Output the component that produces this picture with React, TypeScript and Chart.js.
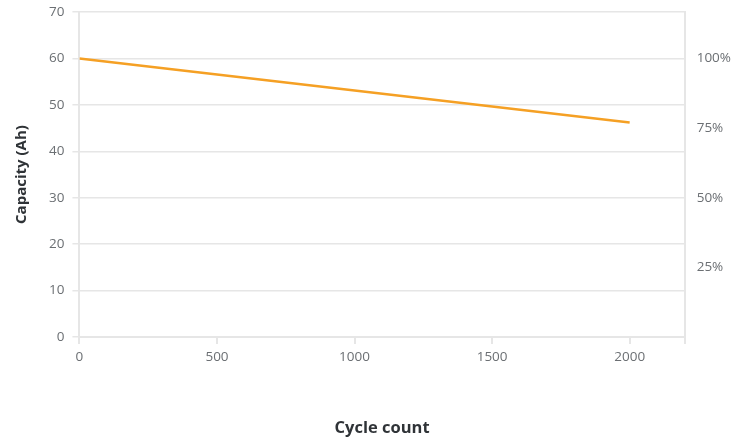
import React, { useEffect, useRef } from "react";
import { Chart, registerables } from "chart.js";

Chart.register(...registerables);

const cycles = [0, 2000];
const capacityAh = [60, 46.2];
const xTicks = [0, 500, 1000, 1500, 2000, 2200];
const yTicks = [0, 10, 20, 30, 40, 50, 60, 70];
const pctTicks = [15, 30, 45, 60];
const fullCapacity = 60;

export default function App() {
  const ref = useRef<HTMLCanvasElement | null>(null);
  useEffect(() => {
    document.body.style.margin = "0";
    const ctx = ref.current!;
    const grid = "#e6e6e6";
    const tickColor = "#6b6f73";
    const font = "'Open Sans', sans-serif";
    const chart = new Chart(ctx, {
      type: "line",
      data: {
        datasets: [
          {
            data: cycles.map((c, i) => ({ x: c, y: capacityAh[i] })),
            borderColor: "#f5a024",
            borderWidth: 2.5,
            pointRadius: 0,
            fill: false,
            tension: 0,
            yAxisID: "y",
          },
        ],
      },
      options: {
        animation: false,
        responsive: false,
        maintainAspectRatio: false,
        layout: { padding: { left: 13, right: 5, top: 0, bottom: 1 } },
        plugins: { legend: { display: false }, tooltip: { enabled: false } },
        scales: {
          x: {
            type: "linear",
            min: 0,
            max: 2200,
            afterBuildTicks: (axis: any) => {
              axis.ticks = xTicks.map((v) => ({ value: v }));
            },
            grid: { drawOnChartArea: false, color: grid, tickLength: 7, lineWidth: 2 },
            border: { color: grid, width: 2 },
            ticks: {
              color: tickColor,
              font: { family: font, size: 13.5 },
              padding: 5,
              maxRotation: 0,
              autoSkip: false,
              callback: (v: any) => (v === 2200 ? "" : String(v)),
            },
            title: {
              display: true,
              text: "Cycle count",
              color: "#2f3337",
              font: { family: font, size: 16.5, weight: "bold" },
              padding: { top: 48, bottom: 2 },
            },
          },
          y: {
            type: "linear",
            position: "left",
            min: 0,
            max: 70,
            afterBuildTicks: (axis: any) => {
              axis.ticks = yTicks.map((v) => ({ value: v }));
            },
            grid: { color: grid, tickLength: 7, lineWidth: 1.5 },
            border: { color: grid, width: 2 },
            ticks: {
              color: tickColor,
              font: { family: font, size: 13.5 },
              padding: 8,
            },
            title: {
              display: true,
              text: "Capacity (Ah)",
              color: "#2f3337",
              font: { family: font, size: 15, weight: "bold" },
              padding: { top: 0, bottom: 10 },
            },
          },
          y2: {
            type: "linear",
            position: "right",
            min: 0,
            max: 70,
            afterBuildTicks: (axis: any) => {
              axis.ticks = pctTicks.map((v) => ({ value: v }));
            },
            grid: { drawOnChartArea: false, drawTicks: false },
            border: { color: grid, width: 2 },
            ticks: {
              color: tickColor,
              font: { family: font, size: 13.5 },
              padding: 12,
              callback: (v: any) => Math.round((v / fullCapacity) * 100) + "%",
            },
          },
        },
      },
    });
    return () => chart.destroy();
  }, []);
  return (
    <div style={{ width: 748, height: 441, overflow: "hidden", position: "relative" }}>
      <canvas
        ref={ref}
        width={748}
        height={449}
        style={{ display: "block", position: "absolute", top: -8, left: 0 }}
      />
    </div>
  );
}
